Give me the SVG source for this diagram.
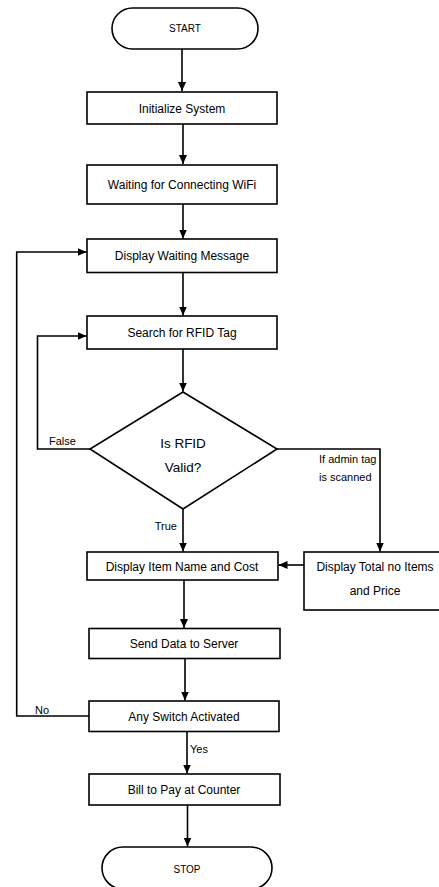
<svg xmlns="http://www.w3.org/2000/svg" width="439" height="887" viewBox="0 0 439 887">
<defs>
<marker id="arr" markerWidth="10" markerHeight="10" refX="9" refY="4" orient="auto" markerUnits="userSpaceOnUse">
<path d="M0,0 L9,4 L0,8 Z" fill="#000"/>
</marker>
<style>
.box{fill:#fff;stroke:#000;stroke-width:1.6}
.ln{fill:none;stroke:#000;stroke-width:1.6}
text{font-family:"Liberation Sans",Arial,sans-serif;font-size:12px;fill:#000}
.c{text-anchor:middle}
.big{font-size:13.5px}
.sm{font-size:11px}
.xs{font-size:10px}
</style>
</defs>
<rect width="439" height="887" fill="#fff"/>
<g id="connectors">
<line class="ln" x1="182" y1="49" x2="182" y2="91" marker-end="url(#arr)"/>
<line class="ln" x1="183" y1="124" x2="183" y2="164" marker-end="url(#arr)"/>
<line class="ln" x1="183" y1="204" x2="183" y2="238.5" marker-end="url(#arr)"/>
<line class="ln" x1="183" y1="272.5" x2="183" y2="315.5" marker-end="url(#arr)"/>
<line class="ln" x1="183" y1="349" x2="183" y2="391.5" marker-end="url(#arr)"/>
<polyline class="ln" points="90,449 37.5,449 37.5,336 86.5,336" marker-end="url(#arr)"/>
<polyline class="ln" points="89,716 16.7,716 16.7,252 86.5,252" marker-end="url(#arr)"/>
<polyline class="ln" points="277,449 380,449 380,551.5" marker-end="url(#arr)"/>
<line class="ln" x1="183" y1="509" x2="183" y2="551.5" marker-end="url(#arr)"/>
<line class="ln" x1="304" y1="565" x2="278.5" y2="565" marker-end="url(#arr)"/>
<line class="ln" x1="184" y1="580" x2="184" y2="628" marker-end="url(#arr)"/>
<line class="ln" x1="185" y1="658.5" x2="185" y2="700.5" marker-end="url(#arr)"/>
<line class="ln" x1="187" y1="731.5" x2="187" y2="773.5" marker-end="url(#arr)"/>
<line class="ln" x1="187.5" y1="805" x2="187.5" y2="846.5" marker-end="url(#arr)"/>
<text class="sm" x="49" y="445">False</text>
<text class="sm" x="319" y="463">If admin tag</text>
<text class="sm" x="319" y="481">is scanned</text>
<text class="sm" x="177" y="530" text-anchor="end">True</text>
<text class="sm" x="35" y="714">No</text>
<text class="sm" x="190" y="753">Yes</text>
</g>
<g id="start">
<rect class="box" x="112" y="8" width="146" height="41" rx="20.5"/>
<text class="c xs" x="185" y="32">START</text>
</g>
<g id="init">
<rect class="box" x="87" y="92" width="190" height="32"/>
<text class="c" x="182" y="112.5">Initialize System</text>
</g>
<g id="wifi">
<rect class="box" x="87" y="165" width="190" height="39"/>
<text class="c" x="182" y="188.5">Waiting for Connecting WiFi</text>
</g>
<g id="waitmsg">
<rect class="box" x="87" y="239" width="190" height="33.5"/>
<text class="c" x="182" y="260">Display Waiting Message</text>
</g>
<g id="search">
<rect class="box" x="87" y="316" width="190" height="33"/>
<text class="c" x="182" y="337">Search for RFID Tag</text>
</g>
<g id="decision">
<polygon class="box" points="183,392 277,449 183,509 90,449"/>
<text class="c big" x="183" y="448">Is RFID</text>
<text class="c big" x="183" y="472">Valid?</text>
</g>
<g id="item">
<rect class="box" x="87" y="552" width="191" height="28"/>
<text class="c" x="182" y="570.5">Display Item Name and Cost</text>
</g>
<g id="total">
<rect class="box" x="304" y="552" width="140" height="58"/>
<text class="c" x="375" y="571">Display Total no Items</text>
<text class="c" x="375" y="595">and Price</text>
</g>
<g id="send">
<rect class="box" x="89" y="628.5" width="191" height="30"/>
<text class="c" x="184" y="648">Send Data to Server</text>
</g>
<g id="switch">
<rect class="box" x="89" y="701" width="190" height="30.5"/>
<text class="c" x="184" y="721">Any Switch Activated</text>
</g>
<g id="bill">
<rect class="box" x="89" y="774" width="191" height="31"/>
<text class="c" x="184" y="794">Bill to Pay at Counter</text>
</g>
<g id="stop">
<rect class="box" x="102" y="847" width="170" height="42" rx="21"/>
<text class="c xs" x="187" y="873">STOP</text>
</g>
</svg>
